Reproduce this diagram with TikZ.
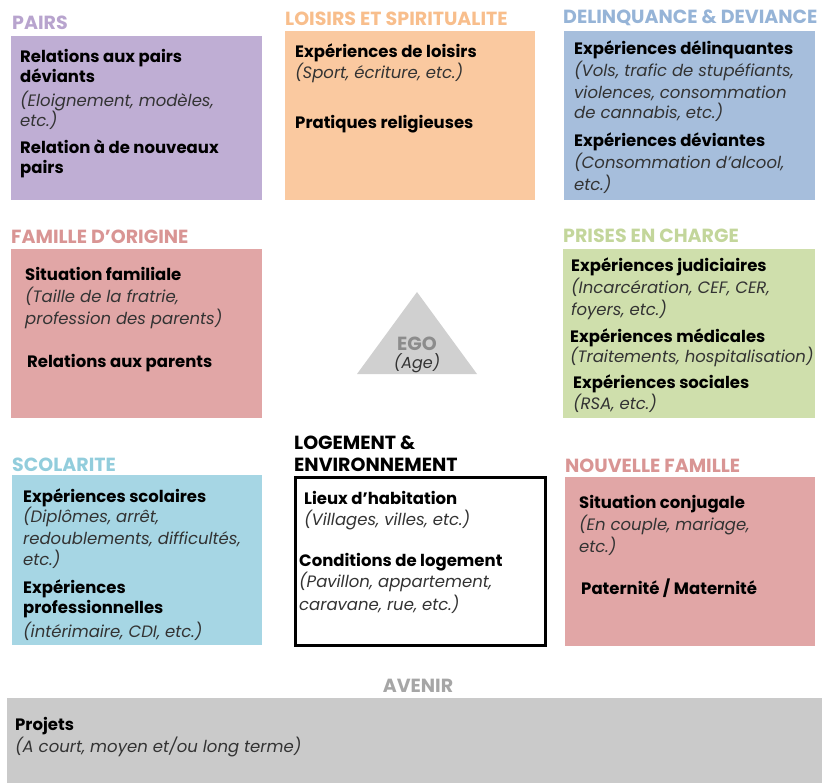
\documentclass[tikz,border=0pt]{standalone}
\usepackage{fontspec}
\setmainfont{Poppins}
\definecolor{purBox}{RGB}{191,174,212}
\definecolor{purTtl}{RGB}{184,164,206}
\definecolor{orBox}{RGB}{250,201,160}
\definecolor{orTtl}{RGB}{248,190,140}
\definecolor{blBox}{RGB}{166,190,220}
\definecolor{blTtl}{RGB}{150,180,215}
\definecolor{pkBox}{RGB}{225,166,166}
\definecolor{pkTtl}{RGB}{217,149,148}
\definecolor{grBox}{RGB}{207,223,172}
\definecolor{grTtl}{RGB}{195,214,155}
\definecolor{cyBox}{RGB}{166,214,228}
\definecolor{cyTtl}{RGB}{146,205,220}
\definecolor{gyBox}{RGB}{202,202,202}
\definecolor{gyTtl}{RGB}{166,166,166}
\definecolor{triFill}{RGB}{208,208,208}
\definecolor{egoTxt}{RGB}{140,140,140}
\tikzset{
  bline/.style={anchor=base west, inner sep=0pt, yshift=-2pt, font=\fontsize{16.5}{18}\selectfont\bfseries, text=black},
  iline/.style={anchor=base west, inner sep=0pt, yshift=-2pt, font=\fontsize{16.5}{18}\selectfont\itshape, text=black!80},
  ttl/.style={anchor=base west, inner sep=0pt, font=\fontsize{19}{20}\selectfont\bfseries},
}
\begin{document}
\begin{tikzpicture}[x=1pt,y=-1pt]
\useasboundingbox (0,0) rectangle (832,783);
% boxes
\fill[purBox] (11,36) rectangle (262,200);
\fill[orBox] (285,31) rectangle (535,200);
\fill[blBox] (564,31) rectangle (815,200);
\fill[pkBox] (11,249) rectangle (262,418);
\fill[grBox] (563,249) rectangle (815,418);
\fill[cyBox] (12,475) rectangle (262,645);
\draw[line width=3pt] (295,477) rectangle (545,645);
\fill[pkBox] (565,477) rectangle (815,646);
\fill[gyBox] (7,698) rectangle (822,783);
\fill[triFill] (417,292) -- (477,374) -- (357,374) -- cycle;
% titles
\node[ttl, text=purTtl] (tPairs) at (12,30) {PAIRS};
\node[ttl, text=orTtl] (tLoisirs) at (285,26) {LOISIRS ET SPIRITUALITE};
\node[ttl, text=blTtl] (tDelin) at (563,24) {DELINQUANCE \& DEVIANCE};
\node[ttl, text=pkTtl] (tFam) at (11,244) {FAMILLE D’ORIGINE};
\node[ttl, text=grTtl] (tPrises) at (563,243) {PRISES EN CHARGE};
\node[ttl, text=cyTtl] (tScol) at (12,471) {SCOLARITE};
\node[ttl, text=pkTtl] (tNouv) at (565,472) {NOUVELLE FAMILLE};
\node[ttl, text=black] (tLog1) at (294,449) {LOGEMENT \&};
\node[ttl, text=black] (tLog2) at (294,471) {ENVIRONNEMENT};
\node[ttl, text=gyTtl, anchor=base] (tAven) at (418,692) {AVENIR};
% EGO
\node[anchor=base, inner sep=0pt, font=\fontsize{19}{20}\selectfont\bfseries, text=egoTxt] (ego) at (417,350) {EGO};
\node[anchor=base, inner sep=0pt, font=\fontsize{16}{18}\selectfont\itshape, text=black!80] (age) at (417,368) {(Age)};
% PAIRS
\node[bline] (p1) at (20,61) {Relations aux pairs};
\node[bline] (p2) at (20,81) {déviants};
\node[iline] (p3) at (20,105) {(Eloignement, modèles,};
\node[iline] (p4) at (20,125) {etc.)};
\node[bline] (p5) at (20,152) {Relation à de nouveaux};
\node[bline] (p6) at (20,172) {pairs};
% LOISIRS
\node[bline] (l1) at (295,56) {Expériences de loisirs};
\node[iline] (l2) at (295,77) {(Sport, écriture, etc.)};
\node[bline] (l3) at (295,127) {Pratiques religieuses};
% DELINQUANCE
\node[bline] (d1) at (574,53) {Expériences délinquantes};
\node[iline] (d2) at (574,75) {(Vols, trafic de stupéfiants,};
\node[iline] (d3) at (574,97) {violences, consommation};
\node[iline] (d4) at (574,117) {de cannabis, etc.)};
\node[bline] (d5) at (574,145) {Expériences déviantes};
\node[iline] (d6) at (574,167) {(Consommation d’alcool,};
\node[iline] (d7) at (574,189) {etc.)};
% FAMILLE
\node[bline] (f1) at (25,279) {Situation familiale};
\node[iline] (f2) at (25,301) {(Taille de la fratrie,};
\node[iline] (f3) at (25,323) {profession des parents)};
\node[bline] (f4) at (27,365) {Relations aux parents};
% PRISES
\node[bline] (r1) at (571,270) {Expériences judiciaires};
\node[iline] (r2) at (571,292) {(Incarcération, CEF, CER,};
\node[iline] (r3) at (571,314) {foyers, etc.)};
\node[bline] (r4) at (570,340) {Expériences médicales};
\node[iline] (r5) at (570,360) {(Traitements, hospitalisation)};
\node[bline] (r6) at (573,386) {Expériences sociales};
\node[iline] (r7) at (573,407) {(RSA, etc.)};
% SCOLARITE
\node[bline] (s1) at (23,500) {Expériences scolaires};
\node[iline] (s2) at (23,520) {(Diplômes, arrêt,};
\node[iline] (s3) at (23,542) {redoublements, difficultés,};
\node[iline] (s4) at (23,563) {etc.)};
\node[bline] (s5) at (23,591) {Expériences};
\node[bline] (s6) at (23,611) {professionnelles};
\node[iline] (s7) at (23,635) {(intérimaire, CDI, etc.)};
% LOGEMENT
\node[bline] (g1) at (304,502) {Lieux d’habitation};
\node[iline] (g2) at (304,523) {(Villages, villes, etc.)};
\node[bline] (g3) at (299,564) {Conditions de logement};
\node[iline] (g4) at (299,585) {(Pavillon, appartement,};
\node[iline] (g5) at (299,608) {caravane, rue, etc.)};
% NOUVELLE
\node[bline] (n1) at (579,506) {Situation conjugale};
\node[iline] (n2) at (579,528) {(En couple, mariage,};
\node[iline] (n3) at (579,550) {etc.)};
\node[bline] (n4) at (581,592) {Paternité / Maternité};
% AVENIR
\node[bline] (a1) at (15,728) {Projets};
\node[iline] (a2) at (15,750) {(A court, moyen et/ou long terme)};
\end{tikzpicture}
\end{document}
